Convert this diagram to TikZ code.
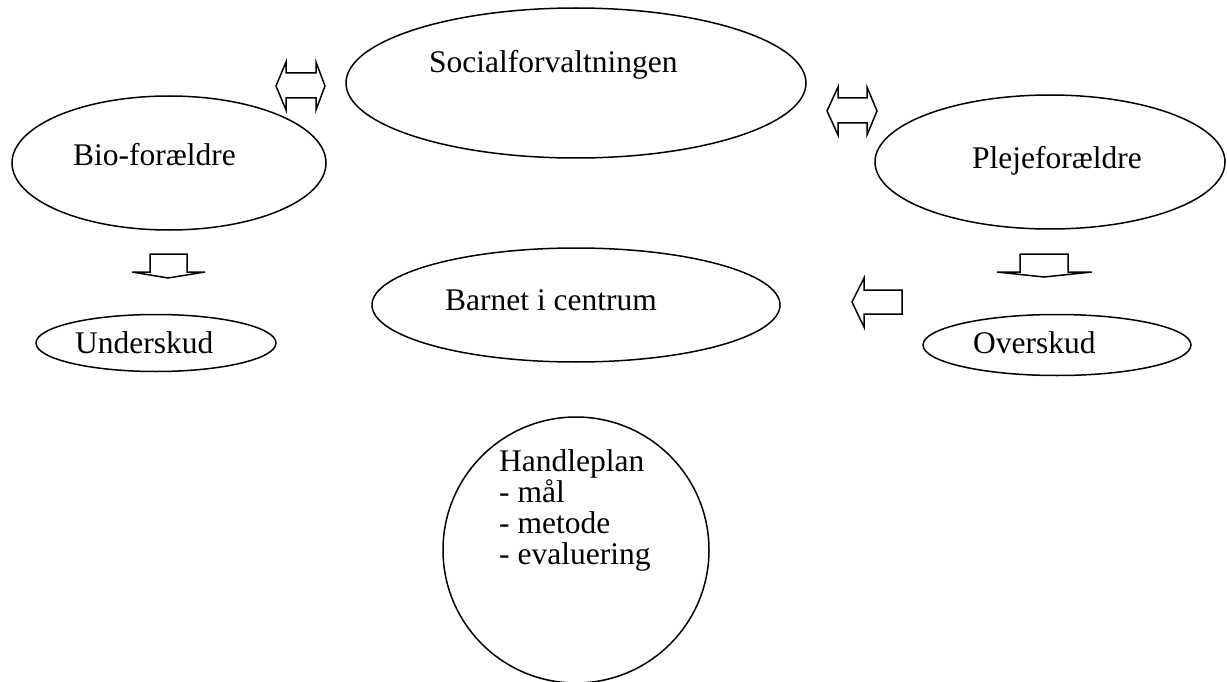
\documentclass[tikz,border=0pt]{standalone}
\usepackage{fontspec}
\setmainfont{Liberation Serif}
\usetikzlibrary{shapes.geometric}
\begin{document}
\begin{tikzpicture}[x=1pt,y=-1pt,
  outline/.style={draw=black,line width=1.5pt},
  oval/.style={outline,ellipse,inner sep=0pt},
  lbl/.style={anchor=base west,inner sep=0pt,font=\fontsize{31.5}{31}\selectfont},
  blockarrow/.style={outline,line join=miter,fill=white}]
\useasboundingbox (0,0) rectangle (1227,682);
\clip (0,0) rectangle (1227,682);

% ovals
\node[oval,minimum width=460,minimum height=150] (soc)  at (576,83)  {};
\node[oval,minimum width=314,minimum height=134] (bio)  at (169,163) {};
\node[oval,minimum width=350,minimum height=134] (plej) at (1050,162) {};
\node[oval,minimum width=408,minimum height=114] (barn) at (576,305) {};
\node[oval,minimum width=240,minimum height=57]  (under) at (156,343) {};
\node[oval,minimum width=268,minimum height=61]  (over) at (1057,345) {};
\node[outline,circle,minimum size=266,inner sep=0pt] (plan) at (576,550) {};

% texts
\node[lbl] (tsoc)   at (429,73)  {Socialforvaltningen};
\node[lbl] (tbio)   at (73,166)  {Bio-forældre};
\node[lbl] (tplej)  at (972,168) {Plejeforældre};
\node[lbl] (tbarn)  at (445,310) {Barnet i centrum};
\node[lbl] (tunder) at (75,353)  {Underskud};
\node[lbl] (tover)  at (973,353) {Overskud};
\node[lbl,align=left,anchor=north west] (tplan) at (499,449)
  {Handleplan\\- mål\\- metode\\- evaluering};

% double block arrows
\draw[blockarrow] (276,86) -- (286,62) -- (286,73) -- (316,73) -- (316,62) -- (325,86)
  -- (316,110) -- (316,98) -- (286,98) -- (286,110) -- cycle;
\draw[blockarrow] (827,111) -- (838,87) -- (838,98) -- (867,98) -- (867,87) -- (877,111)
  -- (867,135) -- (867,123) -- (838,123) -- (838,135) -- cycle;

% down block arrows
\draw[blockarrow] (150,254) -- (187,254) -- (187,272) -- (205,272) -- (168,278)
  -- (132,272) -- (150,272) -- cycle;
\draw[blockarrow] (1020,254) -- (1068,254) -- (1068,272) -- (1092,272) -- (1044,277)
  -- (997,272) -- (1020,272) -- cycle;

% left block arrow
\draw[blockarrow] (852,302) -- (864,278) -- (864,290) -- (902,290) -- (902,314)
  -- (864,314) -- (864,327) -- cycle;
\end{tikzpicture}
\end{document}
